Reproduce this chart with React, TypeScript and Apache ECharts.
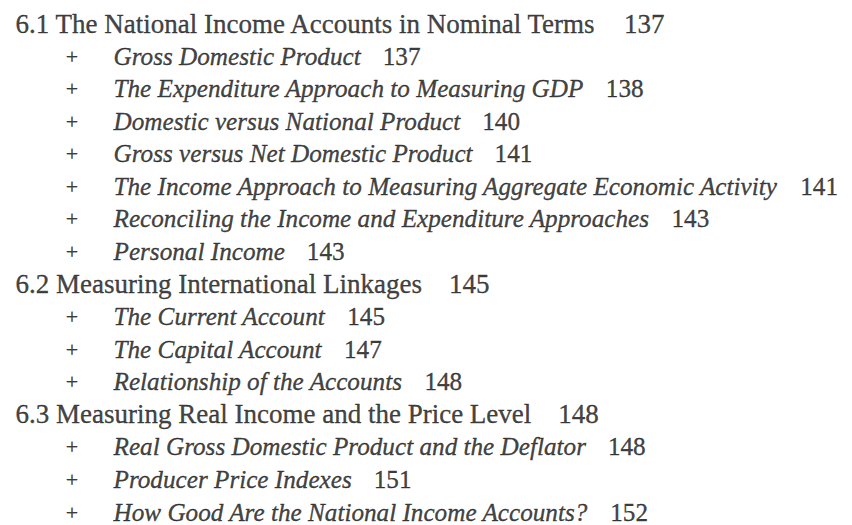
import React, { useEffect, useRef } from "react";
import * as echarts from "echarts";

// ---- data ----
const entryTitles: string[] = [
  "6.1 The National Income Accounts in Nominal Terms",
  "Gross Domestic Product",
  "The Expenditure Approach to Measuring GDP",
  "Domestic versus National Product",
  "Gross versus Net Domestic Product",
  "The Income Approach to Measuring Aggregate Economic Activity",
  "Reconciling the Income and Expenditure Approaches",
  "Personal Income",
  "6.2 Measuring International Linkages",
  "The Current Account",
  "The Capital Account",
  "Relationship of the Accounts",
  "6.3 Measuring Real Income and the Price Level",
  "Real Gross Domestic Product and the Deflator",
  "Producer Price Indexes",
  "How Good Are the National Income Accounts?",
];
const entryPages: number[] = [137, 137, 138, 140, 141, 141, 143, 143, 145, 145, 147, 148, 148, 148, 151, 152];
const entryLevels: number[] = [0, 1, 1, 1, 1, 1, 1, 1, 0, 1, 1, 1, 0, 1, 1, 1];
const bulletMark = "+";

// ---- layout / style ----
const W = 852;
const H = 525;
const headerX = 15;
const itemX = 113;
const bulletX = 72;
const FONT = "'Liberation Serif', 'Times New Roman', serif";
const INK = "#111";
const STROKE = { textBorderColor: INK, textBorderWidth: 0.35 };

export default function App() {
  const ref = useRef<HTMLDivElement>(null);
  useEffect(() => {
    if (!ref.current) return;
    const chart = echarts.init(ref.current, undefined, { renderer: "svg" });
    const rowData = entryTitles.map((_, i) => [entryLevels[i] === 0 ? headerX : itemX, i]);
    const bulletData = entryTitles
      .map((_, i) => (entryLevels[i] === 1 ? [bulletX, i] : null))
      .filter((d) => d !== null);
    chart.setOption({
      animation: false,
      backgroundColor: "#ffffff",
      grid: { left: 0, right: 0, top: 23.5, bottom: 13, containLabel: false },
      xAxis: { type: "value", min: 0, max: W, show: false },
      yAxis: {
        type: "category",
        data: entryTitles.map((_, i) => String(i)),
        inverse: true,
        boundaryGap: false,
        show: false,
      },
      series: [
        {
          type: "scatter",
          silent: true,
          symbolSize: 1,
          itemStyle: { color: "rgba(0,0,0,0)" },
          data: rowData,
          label: {
            show: true,
            position: "right",
            distance: 0,
            formatter: (p: any) => {
              const i = p.dataIndex;
              return entryLevels[i] === 0
                ? `{h|${entryTitles[i]}}{hn|${entryPages[i]}}`
                : `{t|${entryTitles[i]}}{n|${entryPages[i]}}`;
            },
            rich: {
              h: { fontFamily: FONT, fontSize: 27, color: INK, ...STROKE },
              hn: { fontFamily: FONT, fontSize: 27, color: INK, padding: [0, 0, 0, 27], ...STROKE },
              t: { fontFamily: FONT, fontSize: 25.2, fontStyle: "italic", color: INK, ...STROKE },
              n: { fontFamily: FONT, fontSize: 25.2, color: INK, padding: [0, 0, 0, 22], ...STROKE },
            },
          },
        },
        {
          type: "scatter",
          silent: true,
          symbolSize: 1,
          itemStyle: { color: "rgba(0,0,0,0)" },
          data: bulletData,
          label: {
            show: true,
            position: "inside",
            formatter: bulletMark,
            fontFamily: FONT,
            fontSize: 22,
            color: INK,
            ...STROKE,
          },
        },
      ],
    });
    return () => chart.dispose();
  }, []);
  return (
    <div
      ref={ref}
      style={{ position: "fixed", left: 0, top: 0, width: W, height: H, background: "#fff" }}
    />
  );
}
